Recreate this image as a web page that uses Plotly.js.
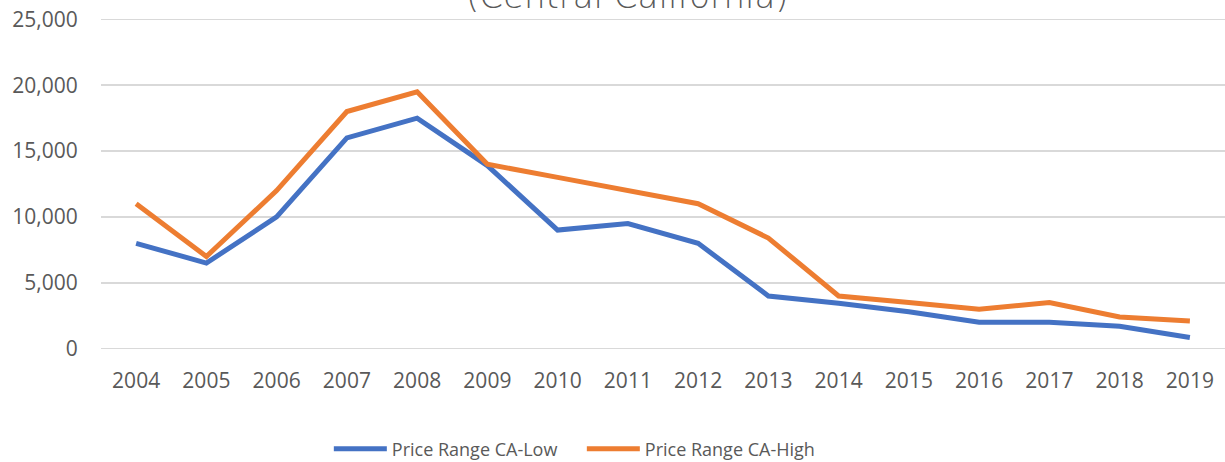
<!DOCTYPE html>
<html>
<head>
<meta charset="utf-8">
<script src="https://cdn.plot.ly/plotly-3.0.1.min.js"></script>
<style>html,body{margin:0;padding:0;background:#fff;}#chart{width:1225px;height:462px;}</style>
</head>
<body>
<div id="chart"></div>
<script>
const years = ["2004","2005","2006","2007","2008","2009","2010","2011","2012","2013","2014","2015","2016","2017","2018","2019"];
const lowValues = [8000,6500,10000,16000,17500,13900,9000,9500,8000,4000,3450,2800,2000,2000,1700,850];
const highValues = [11000,7000,12000,18000,19500,14000,13000,12000,11000,8400,4000,3500,3000,3500,2400,2100];
const seriesNames = ["Price Range CA-Low","Price Range CA-High"];
const titleText = "(Central California)";

const font = "'Open Sans', Lato, 'Liberation Sans', sans-serif";
const traces = [
  {x: years, y: lowValues, name: seriesNames[0], type: "scatter", mode: "lines",
   line: {color: "#4472C4", width: 5}},
  {x: years, y: highValues, name: seriesNames[1], type: "scatter", mode: "lines",
   line: {color: "#ED7D31", width: 5}}
];
const layout = {
  width: 1225, height: 462,
  margin: {l: 101, r: 0, t: 18, b: 112, autoexpand: false},
  paper_bgcolor: "#fff", plot_bgcolor: "#fff",
  font: {family: font, color: "#595959", size: 18},
  showlegend: true,
  legend: {orientation: "h", x: 0.2027, xanchor: "left", y: -0.298, yanchor: "middle",
           font: {family: font, size: 18, color: "#595959"}, traceorder: "normal",
           itemwidth: 53, entrywidth: 185},
  xaxis: {type: "category", showgrid: false, zeroline: false, showline: false,
          ticks: "outside", ticklen: 12, tickcolor: "rgba(0,0,0,0)",
          tickfont: {family: font, size: 21, color: "#595959"}, range: [-0.5, 15.5]},
  yaxis: {range: [-100, 25100], dtick: 5000, tickformat: ",d", showgrid: true,
          gridcolor: "#D9D9D9", gridwidth: 1.5, zeroline: false, showline: false,
          ticks: "outside", ticklen: 18, tickcolor: "rgba(0,0,0,0)",
          tickfont: {family: font, size: 21, color: "#595959"}},
  annotations: [{text: titleText, xref: "paper", yref: "paper", x: 0.4684, y: 0.999,
                 xanchor: "center", yanchor: "bottom", showarrow: false,
                 font: {family: "'DejaVu Sans', sans-serif", size: 34, weight: 300, color: "#595959"}}]
};
Plotly.newPlot("chart", traces, layout, {displayModeBar: false, staticPlot: true});
</script>
</body>
</html>
